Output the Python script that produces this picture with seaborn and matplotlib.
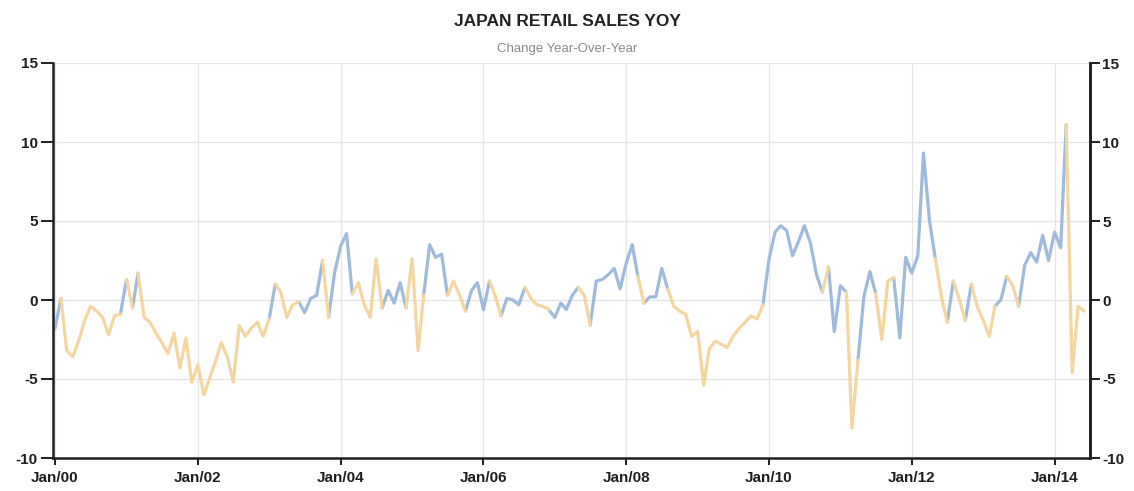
import matplotlib
matplotlib.use("Agg")
import matplotlib.pyplot as plt
import pandas as pd
import seaborn as sns

# Japan retail sales, % change year-over-year, monthly from Jan 2000
sales_2000 = [-1.8, 0.1, -3.2, -3.6, -2.6, -1.3, -0.4, -0.7, -1.1, -2.2, -1.0, -0.9]
sales_2001 = [1.3, -0.5, 1.7, -1.1, -1.4, -2.1, -2.7, -3.4, -2.1, -4.3, -2.4, -5.2]
sales_2002 = [-4.1, -6.0, -5.0, -3.9, -2.7, -3.6, -5.2, -1.6, -2.3, -1.8, -1.4, -2.3]
sales_2003 = [-1.2, 1.0, 0.5, -1.1, -0.3, -0.1, -0.8, 0.1, 0.3, 2.5, -1.1, 1.7]
sales_2004 = [3.4, 4.2, 0.4, 1.1, -0.3, -1.1, 2.6, -0.5, 0.6, -0.2, 1.1, -0.5]
sales_2005 = [2.6, -3.2, 0.3, 3.5, 2.7, 2.9, 0.3, 1.2, 0.3, -0.7, 0.6, 1.1]
sales_2006 = [-0.6, 1.2, 0.3, -1.0, 0.1, 0.0, -0.3, 0.8, 0.1, -0.3, -0.4, -0.6]
sales_2007 = [-1.1, -0.2, -0.6, 0.3, 0.8, 0.3, -1.6, 1.2, 1.3, 1.6, 2.0, 0.7]
sales_2008 = [2.3, 3.5, 1.5, -0.2, 0.2, 0.2, 2.0, 0.7, -0.4, -0.7, -0.9, -2.3]
sales_2009 = [-2.0, -5.4, -3.1, -2.6, -2.8, -3.0, -2.3, -1.8, -1.4, -1.0, -1.2, -0.3]
sales_2010 = [2.6, 4.3, 4.7, 4.4, 2.8, 3.7, 4.7, 3.6, 1.6, 0.5, 2.1, -2.0]
sales_2011 = [0.9, 0.5, -8.1, -3.8, 0.2, 1.8, 0.4, -2.5, 1.2, 1.4, -2.4, 2.7]
sales_2012 = [1.7, 2.8, 9.3, 5.0, 2.6, 0.2, -1.4, 1.2, 0.0, -1.3, 1.0, -0.4]
sales_2013 = [-1.3, -2.3, -0.4, 0.0, 1.5, 0.9, -0.4, 2.2, 3.0, 2.4, 4.1, 2.5]
sales_2014 = [4.3, 3.3, 11.1, -4.6, -0.4, -0.7]

# Trend regime of each month (U = strengthening, D = weakening)
trend_2000 = "UUDDDDDDDDDD"
trend_2001 = "UDUDDDDDDDDD"
trend_2002 = "DDDDDDDDDDDD"
trend_2003 = "DUDDDDUUUUDU"
trend_2004 = "UUUDDDDDUUUU"
trend_2005 = "DDDUUUUDDDUU"
trend_2006 = "UUDDUUUUDDDD"
trend_2007 = "UUUUUDDUUUUU"
trend_2008 = "UUUDUUUUDDDD"
trend_2009 = "DDDDDDDDDDDD"
trend_2010 = "UUUUUUUUUUDU"
trend_2011 = "UUDDUUUDDDUU"
trend_2012 = "UUUUUDDUDDUD"
trend_2013 = "DDDUUDDUUUUU"
trend_2014 = "UUUDDD"

x_tick_dates = ["2000-01-01", "2002-01-01", "2004-01-01", "2006-01-01",
                "2008-01-01", "2010-01-01", "2012-01-01", "2014-01-01"]
x_tick_labels = ["Jan/00", "Jan/02", "Jan/04", "Jan/06",
                 "Jan/08", "Jan/10", "Jan/12", "Jan/14"]
y_ticks = [-10, -5, 0, 5, 10, 15]

title = "JAPAN RETAIL SALES YOY"
subtitle = "Change Year-Over-Year"

values = (sales_2000 + sales_2001 + sales_2002 + sales_2003 + sales_2004 +
          sales_2005 + sales_2006 + sales_2007 + sales_2008 + sales_2009 +
          sales_2010 + sales_2011 + sales_2012 + sales_2013 + sales_2014)
trend = (trend_2000 + trend_2001 + trend_2002 + trend_2003 + trend_2004 +
         trend_2005 + trend_2006 + trend_2007 + trend_2008 + trend_2009 +
         trend_2010 + trend_2011 + trend_2012 + trend_2013 + trend_2014)
dates = pd.date_range("2000-01-01", periods=len(values), freq="MS")

# Split the series into runs of equal trend; each run repeats the point
# before it so the coloured pieces join into one continuous line.
rows = []
n = len(values)
run_id = 0
start = 1
for i in range(2, n + 1):
    if i == n or trend[i] != trend[start]:
        for j in range(start - 1, i):
            rows.append({"date": dates[j], "value": values[j],
                         "trend": trend[start], "run": run_id, "step": j})
        run_id += 1
        start = i
df = pd.DataFrame(rows)

BLUE = "#a0badb"
TAN = "#f4d6a0"
DARK = "#1e1e1e"

sns.set_theme(style="white")
plt.rcParams["font.family"] = ["Liberation Sans", "DejaVu Sans"]
plt.rcParams["axes.unicode_minus"] = False

fig = plt.figure(figsize=(11.34, 4.91), dpi=100)
ax = fig.add_axes([53 / 1134, 1 - 458 / 491, (1090 - 53) / 1134, (458 - 63) / 491])

ax.grid(True, color="#e4e4e4", lw=0.9)
ax.set_axisbelow(True)

sns.lineplot(data=df, x="date", y="value", hue="trend", units="run",
             estimator=None, sort=False, palette={"U": BLUE, "D": TAN},
             lw=2.3, legend=False, ax=ax,
             solid_capstyle="round", solid_joinstyle="round")

ax.set_ylim(-10, 15)
ax.set_xlim(pd.Timestamp("1999-12-22"), pd.Timestamp("2014-07-01"))
ax.set_yticks(y_ticks)
ax.set_xticks(pd.to_datetime(x_tick_dates))
ax.set_xticklabels(x_tick_labels)
ax.set_xlabel("")
ax.set_ylabel("")

for side in ("left", "bottom", "right"):
    ax.spines[side].set_visible(True)
    ax.spines[side].set_color(DARK)
    ax.spines[side].set_linewidth(1.8)
ax.spines["top"].set_visible(False)

ax.tick_params(axis="y", direction="out", length=9, width=1.4, color=DARK,
               pad=2, labelsize=11, labelcolor=DARK, left=True)
ax.tick_params(axis="x", direction="out", length=5, width=1.4, color=DARK,
               pad=4, labelsize=11, labelcolor=DARK, bottom=True)
for lab in ax.get_xticklabels() + ax.get_yticklabels():
    lab.set_fontweight("bold")

ax2 = ax.twinx()
ax2.set_ylim(-10, 15)
ax2.set_yticks(y_ticks)
ax2.grid(False)
for side in ("left", "bottom", "top"):
    ax2.spines[side].set_visible(False)
ax2.spines["right"].set_color(DARK)
ax2.spines["right"].set_linewidth(1.8)
ax2.tick_params(axis="y", direction="out", length=7, width=1.4, color=DARK,
                pad=2, labelsize=11, labelcolor=DARK, right=True)
for lab in ax2.get_yticklabels():
    lab.set_fontweight("bold")

fig.text(0.5, 1 - 22 / 491, title, ha="center", va="center",
         fontsize=12.5, fontweight="bold", color="#222222")
fig.text(0.5, 1 - 49 / 491, subtitle, ha="center", va="center",
         fontsize=9.5, color="#8a8a8a")

fig.savefig("out.png", dpi=100)
